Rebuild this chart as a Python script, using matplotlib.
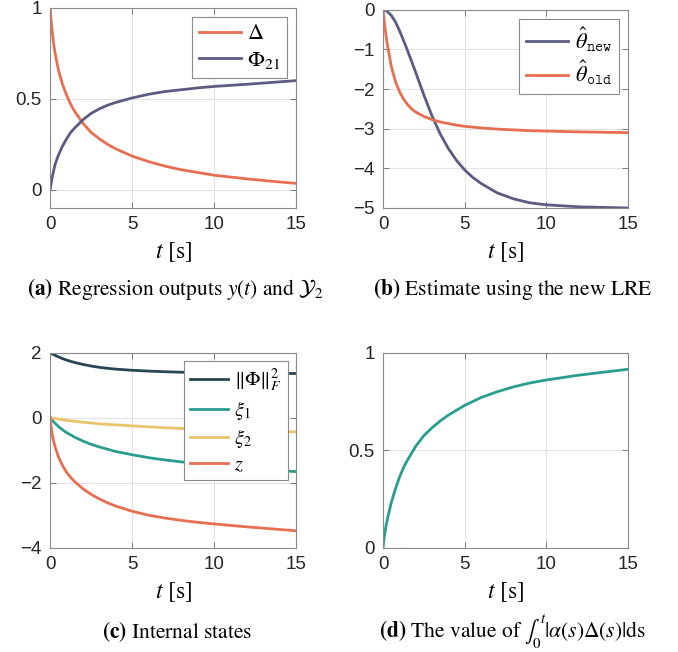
import numpy as np
import matplotlib
matplotlib.use('Agg')
import matplotlib.pyplot as plt

plt.rcParams['mathtext.fontset'] = 'stix'
plt.rcParams['font.family'] = ['Liberation Sans', 'DejaVu Sans']

# colores
naranja = '#E76F51'
morado = '#5B5C82'
oscuro = '#264653'
verde = '#2A9D8F'
amarillo = '#E9C46A'

# (a) salidas de regresion
t_a = [0, 0.05, 0.1, 0.2, 0.3, 0.5, 0.75, 1, 1.25, 1.5, 2, 2.5, 3, 3.5, 4, 5, 6, 7, 8, 9, 10, 12, 13.5, 15]
delta = [1.0, 0.94, 0.89, 0.81, 0.75, 0.66, 0.58, 0.52, 0.47, 0.43, 0.365, 0.315, 0.28, 0.25, 0.225, 0.185, 0.155, 0.13, 0.11, 0.095, 0.08, 0.06, 0.047, 0.035]
phi21 = [0.0, 0.03, 0.06, 0.1, 0.14, 0.19, 0.24, 0.28, 0.315, 0.34, 0.385, 0.42, 0.445, 0.465, 0.48, 0.505, 0.525, 0.54, 0.55, 0.56, 0.568, 0.58, 0.59, 0.6]

# (b) estimaciones
t_b = [0, 0.1, 0.25, 0.5, 0.75, 1, 1.25, 1.5, 1.75, 2, 2.5, 3, 3.5, 4, 4.5, 5, 5.5, 6, 7, 8, 9, 10, 12, 15]
theta_new = [0.0, -0.01, -0.04, -0.14, -0.3, -0.52, -0.77, -1.03, -1.3, -1.58, -2.15, -2.68, -3.13, -3.5, -3.8, -4.04, -4.23, -4.38, -4.62, -4.77, -4.87, -4.92, -4.97, -5.0]
theta_old = [0.0, -0.4, -0.85, -1.42, -1.8, -2.06, -2.25, -2.39, -2.5, -2.58, -2.69, -2.77, -2.83, -2.87, -2.91, -2.94, -2.96, -2.98, -3.01, -3.03, -3.05, -3.06, -3.08, -3.1]

# (c) estados internos
t_c = [0, 0.05, 0.1, 0.2, 0.3, 0.5, 0.75, 1, 1.25, 1.5, 2, 2.5, 3, 3.5, 4, 5, 6, 7, 8, 9, 10, 12, 13.5, 15]
phi_norm = [2.0, 1.985, 1.97, 1.945, 1.92, 1.875, 1.82, 1.775, 1.735, 1.7, 1.64, 1.59, 1.55, 1.52, 1.495, 1.46, 1.435, 1.415, 1.4, 1.39, 1.38, 1.37, 1.365, 1.36]
xi1 = [0.0, -0.03, -0.06, -0.12, -0.17, -0.27, -0.37, -0.46, -0.53, -0.6, -0.72, -0.82, -0.9, -0.97, -1.04, -1.14, -1.23, -1.3, -1.36, -1.41, -1.46, -1.55, -1.61, -1.66]
xi2 = [0.0, -0.004, -0.008, -0.016, -0.024, -0.04, -0.06, -0.08, -0.095, -0.11, -0.14, -0.16, -0.19, -0.205, -0.22, -0.25, -0.28, -0.31, -0.33, -0.35, -0.37, -0.4, -0.42, -0.44]
z = [0.0, -0.25, -0.45, -0.7, -0.9, -1.2, -1.47, -1.68, -1.84, -1.97, -2.19, -2.36, -2.5, -2.62, -2.72, -2.88, -3.0, -3.09, -3.16, -3.22, -3.27, -3.36, -3.42, -3.48]

# (d) integral
t_d = [0, 0.05, 0.1, 0.2, 0.3, 0.5, 0.75, 1, 1.25, 1.5, 2, 2.5, 3, 3.5, 4, 5, 6, 7, 8, 9, 10, 12, 13.5, 15]
integral = [0.0, 0.04, 0.07, 0.12, 0.16, 0.23, 0.3, 0.36, 0.41, 0.45, 0.52, 0.575, 0.615, 0.65, 0.68, 0.73, 0.77, 0.8, 0.825, 0.845, 0.86, 0.885, 0.9, 0.915]

captions = [r'$\mathbf{(a)}$ Regression outputs $y(t)$ and $\mathcal{Y}_2$',
            r'$\mathbf{(b)}$ Estimate using the new LRE',
            r'$\mathbf{(c)}$ Internal states',
            r'$\mathbf{(d)}$ The value of $\int_0^t|\alpha(s)\Delta(s)|\mathrm{ds}$']

fig = plt.figure(figsize=(6.78, 6.52), dpi=100)
pos = [[0.074, 0.681, 0.363, 0.307],
       [0.565, 0.681, 0.361, 0.304],
       [0.074, 0.160, 0.363, 0.299],
       [0.565, 0.160, 0.361, 0.299]]
ejes = [fig.add_axes(p) for p in pos]

def estilo(ax, yticks, ylim):
    ax.set_xlim(0, 15)
    ax.set_ylim(*ylim)
    ax.set_xticks([0, 5, 10, 15])
    ax.set_yticks(yticks)
    ax.grid(True, color='#e3e3e3', linewidth=0.8)
    ax.set_axisbelow(True)
    ax.tick_params(direction='in', top=True, right=True, length=4, width=0.7,
                   labelsize=13.5, colors='#7a7a7a', labelcolor='#262626', pad=6)
    for s in ax.spines.values():
        s.set_color('#8a8a8a')
        s.set_linewidth(0.8)
    ax.set_xlabel(r'$t$ [s]', family='STIXGeneral', fontsize=17, labelpad=5)

leg_kw = dict(loc='upper right', fancybox=False, edgecolor='#8a8a8a', framealpha=1,
              handlelength=1.9, handletextpad=0.3, borderpad=0.3, labelspacing=0.25,
              borderaxespad=0.4)

ax = ejes[0]
ax.plot(t_a, delta, color=naranja, lw=2, label=r'$\Delta$')
ax.plot(t_a, phi21, color=morado, lw=2, label=r'$\Phi_{21}$')
estilo(ax, [0, 0.5, 1], (-0.1, 1))
ax.set_yticklabels(['0', '0.5', '1'])
l = ax.legend(fontsize=16, **leg_kw)
l.get_frame().set_linewidth(0.8)

ax = ejes[1]
ax.plot(t_b, theta_new, color=morado, lw=2, label=r'$\hat{\theta}_{\mathtt{new}}$')
ax.plot(t_b, theta_old, color=naranja, lw=2, label=r'$\hat{\theta}_{\mathtt{old}}$')
estilo(ax, [-5, -4, -3, -2, -1, 0], (-5, 0))
l = ax.legend(fontsize=16, **leg_kw)
l.get_frame().set_linewidth(0.8)

ax = ejes[2]
ax.plot(t_c, phi_norm, color=oscuro, lw=2, label=r'$\|\Phi\|_F^2$')
ax.plot(t_c, xi1, color=verde, lw=2, label=r'$\xi_1$')
ax.plot(t_c, xi2, color=amarillo, lw=2, label=r'$\xi_2$')
ax.plot(t_c, z, color=naranja, lw=2, label=r'$z$')
estilo(ax, [-4, -2, 0, 2], (-4, 2))
l = ax.legend(fontsize=14.5, **leg_kw)
l.get_frame().set_linewidth(0.8)

ax = ejes[3]
ax.plot(t_d, integral, color=verde, lw=2)
estilo(ax, [0, 0.5, 1], (0, 1))
ax.set_yticklabels(['0', '0.5', '1'])

fig.text(0.258, 0.548, captions[0], family='STIXGeneral', fontsize=15.5, ha='center')
fig.text(0.756, 0.548, captions[1], family='STIXGeneral', fontsize=15.5, ha='center')
fig.text(0.262, 0.022, captions[2], family='STIXGeneral', fontsize=15.5, ha='center')
fig.text(0.756, 0.022, captions[3], family='STIXGeneral', fontsize=15.5, ha='center')

fig.savefig('out.png', dpi=100)
